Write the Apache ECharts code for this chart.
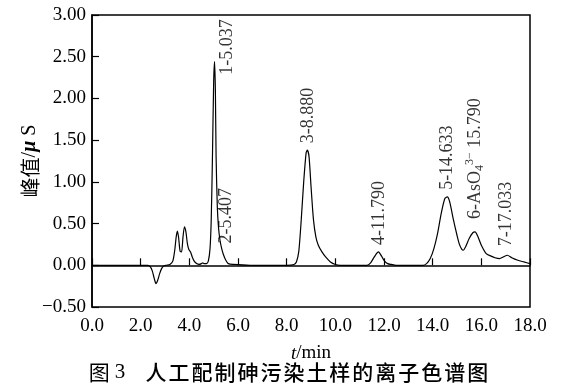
<!DOCTYPE html>
<html>
<head>
<meta charset="utf-8">
<script src="https://cdn.jsdelivr.net/npm/echarts@6/dist/echarts.min.js"></script>
<style>
html,body{margin:0;padding:0;background:#fff;}
#chart{width:578px;height:390px;}
</style>
</head>
<body>
<div id="chart"></div>
<script>
// Chromatogram trace: time (min) and conductivity (μS)
const traceTime = [0,1.0,2.3,2.4,2.48,2.56,2.63,2.7,2.78,2.86,2.94,3.05,3.2,3.32,3.4,3.46,3.51,3.56,3.62,3.68,3.74,3.8,3.86,3.92,3.98,4.05,4.12,4.2,4.3,4.4,4.5,4.55,4.6,4.7,4.78,4.85,4.9,4.95,5.0,5.037,5.07,5.1,5.15,5.2,5.26,5.33,5.4,5.5,5.6,5.8,6.5,8.0,8.3,8.4,8.5,8.6,8.7,8.8,8.85,8.92,9.0,9.1,9.2,9.3,9.45,9.6,9.8,10.0,10.2,11.3,11.45,11.6,11.77,11.9,12.0,12.15,12.3,12.5,13.6,13.75,13.9,14.05,14.2,14.35,14.5,14.6,14.7,14.85,15.0,15.1,15.2,15.26,15.35,15.5,15.65,15.74,15.85,16.0,16.2,16.4,16.56,16.75,16.9,17.07,17.25,17.5,17.75,18.0];
const traceValue = [0,0,0,-0.02,-0.07,-0.16,-0.22,-0.18,-0.1,-0.04,-0.01,0,0.01,0.05,0.18,0.34,0.41,0.33,0.17,0.16,0.34,0.46,0.4,0.26,0.19,0.16,0.1,0.05,0.02,0.01,0.02,0.03,0.02,0.02,0.05,0.2,0.55,1.3,2.2,2.44,2.1,1.3,0.7,0.45,0.3,0.2,0.13,0.06,0.02,0.01,0,0,0.01,0.04,0.17,0.55,1.0,1.35,1.38,1.3,0.95,0.55,0.34,0.24,0.16,0.1,0.04,0.01,0,0,0.03,0.1,0.16,0.11,0.06,0.02,0.01,0,0,0.02,0.08,0.2,0.38,0.62,0.8,0.82,0.76,0.55,0.36,0.25,0.19,0.18,0.22,0.32,0.39,0.4,0.35,0.24,0.14,0.11,0.09,0.08,0.1,0.12,0.09,0.06,0.04,0.02];

// Peak annotations
const peakTimes  = [5.037, 5.407, 8.880, 11.790, 14.633, 15.790, 17.033];
const peakValues = [2.44, 0.13, 1.38, 0.16, 0.82, 0.40, 0.12];
const peakLabels = ['1-5.037', '2-5.407', '3-8.880', '4-11.790', '5-14.633', '6-AsO{sub|4}{sup|3−} 15.790', '7-17.033'];

// Axis ticks
const xTicks = [0, 2, 4, 6, 8, 10, 12, 14, 16, 18];
const yTicks = [-0.5, 0, 0.5, 1.0, 1.5, 2.0, 2.5, 3.0];

// Caption
const captionLead = '图';
const captionNum = '3';
const captionText = '人工配制砷污染土样的离子色谱图';

// label offsets (rotated frame: [up, right] in px)
const labelOffsets = [[-13, 13], [11, 3], [7, 0], [7, 0], [7, -1], [13, -1], [9, 0]];

const serif = '"Liberation Serif","Times New Roman",serif';
const cjk = '"Noto Sans CJK SC",sans-serif';

const trace = traceTime.map((t, i) => [t, traceValue[i]]);
const peaks = peakTimes.map((t, i) => ({
  value: [t, peakValues[i]],
  label: { offset: labelOffsets[i], formatter: peakLabels[i] }
}));

const captionRich = '{l|' + captionLead + '}{n|' + captionNum + '}{g| }' +
  captionText.split('').map(c => '{a|' + c + '}').join('');

const chart = echarts.init(document.getElementById('chart'), null, {renderer: 'canvas'});
chart.setOption({
  backgroundColor: '#fff',
  animation: false,
  title: {
    text: captionRich,
    left: 'center',
    top: 357,
    textStyle: {
      fontWeight: 'normal',
      rich: {
        l: { fontFamily: cjk, fontSize: 21, color: '#000', fontWeight: 'normal', padding: [0, 5, 0, 0] },
        n: { fontFamily: serif, fontSize: 21, color: '#000', fontWeight: 'normal' },
        g: { fontFamily: serif, fontSize: 21, color: '#000', fontWeight: 'normal', padding: [0, 14, 0, 0] },
        a: { fontFamily: cjk, fontSize: 21, color: '#000', fontWeight: 500, padding: [0, 1, 0, 1] }
      }
    }
  },
  grid: { left: 92, right: 48, top: 15, bottom: 83, containLabel: false,
          show: true, borderColor: '#000', borderWidth: 1.5 },
  xAxis: {
    type: 'value', min: xTicks[0], max: xTicks[xTicks.length - 1], interval: 2,
    axisLine: { lineStyle: { color: '#000', width: 1.5 } },
    axisTick: { inside: true, length: 7, lineStyle: { color: '#000', width: 1.2 } },
    splitLine: { show: false },
    axisLabel: { color: '#000', fontFamily: serif, fontSize: 19, margin: 10,
                 formatter: v => v.toFixed(1) },
    name: '{i|t}/min', nameLocation: 'middle', nameGap: 37, nameMoveOverlap: false,
    nameTextStyle: { color: '#000', fontFamily: serif, fontSize: 19,
      rich: { i: { fontStyle: 'italic', fontFamily: serif, fontSize: 19, color: '#000' } } }
  },
  yAxis: {
    type: 'value', min: yTicks[0], max: yTicks[yTicks.length - 1], interval: 0.5,
    axisLine: { lineStyle: { color: '#000', width: 1.5 } },
    axisTick: { inside: true, length: 7, lineStyle: { color: '#000', width: 1.2 } },
    splitLine: { show: false },
    axisLabel: { color: '#000', fontFamily: serif, fontSize: 19, margin: 6,
                 formatter: v => (v < 0 ? '−' : '') + Math.abs(v).toFixed(2) },
    name: '{c|峰值}{s|/}{m|μ}{s| S}', nameLocation: 'middle', nameGap: 52, nameMoveOverlap: false,
    nameTextStyle: { color: '#000',
      rich: {
        c: { fontFamily: cjk, fontSize: 20, color: '#000' },
        s: { fontFamily: serif, fontSize: 20, color: '#000' },
        m: { fontFamily: serif, fontSize: 20, fontStyle: 'italic', fontWeight: 'bold', color: '#000' }
      } }
  },
  series: [
    {
      type: 'line', data: trace, showSymbol: false, symbol: 'none', smooth: 0.25,
      lineStyle: { color: '#000', width: 1.2 }, z: 3
    },
    {
      type: 'scatter', data: peaks, symbolSize: 0, z: 4,
      label: {
        show: true, position: [0, 0], rotate: 90, align: 'left', verticalAlign: 'middle',
        color: '#000', fontFamily: serif, fontSize: 18,
        rich: {
          sub: { fontFamily: serif, fontSize: 12, color: '#000', verticalAlign: 'bottom', lineHeight: 22, padding: [8, 0, 0, 0] },
          sup: { fontFamily: serif, fontSize: 12, color: '#000', verticalAlign: 'top', lineHeight: 22, padding: [0, 0, 8, 0] }
        }
      }
    }
  ]
});
</script>
</body>
</html>
